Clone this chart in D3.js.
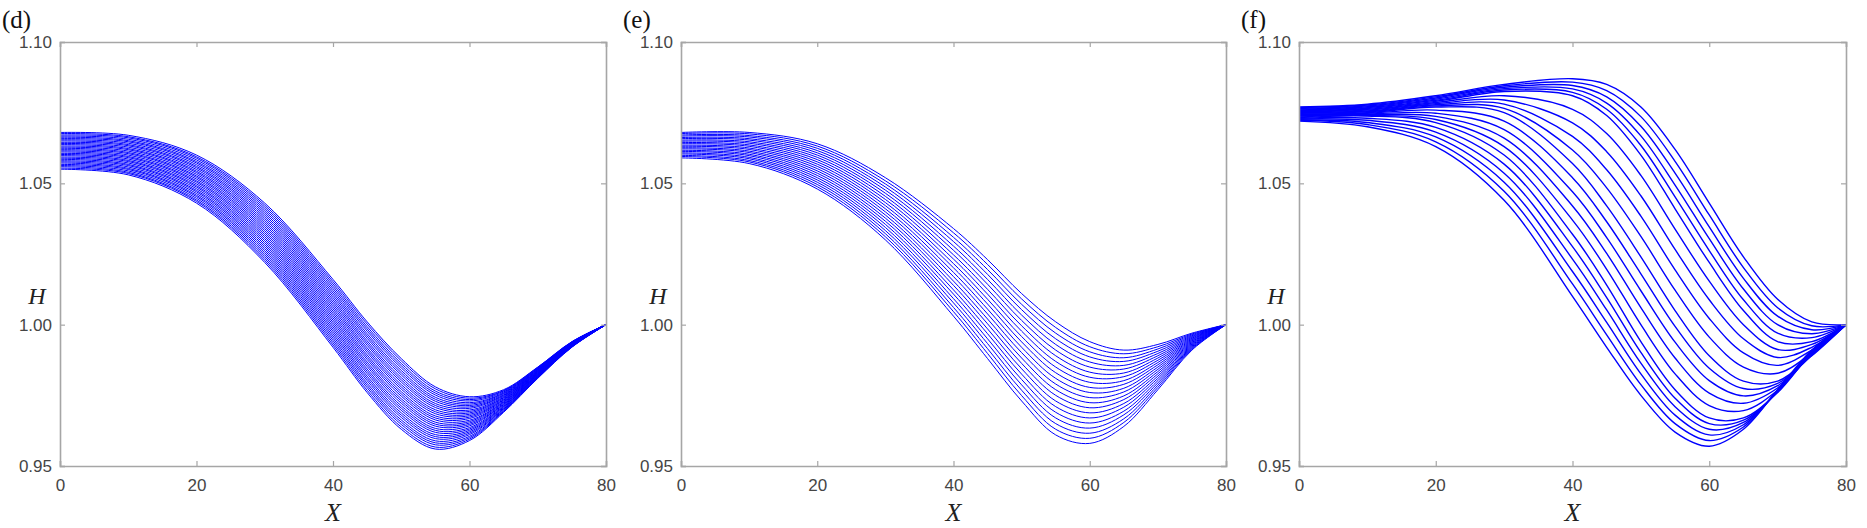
<!DOCTYPE html>
<html><head><meta charset="utf-8">
<script src="https://cdn.jsdelivr.net/npm/d3@7"></script>
<style>body{margin:0;background:#fff}</style>
</head><body><svg id="c" width="1867" height="528"></svg>
<script>
const xGrid = [0,10,20,30,40,45,50,55,60,65,70,75,80];
const xTicks = [0,20,40,60,80];
const yTicks = [0.95,1.00,1.05,1.10];
const yTickLabels = ["0.95","1.00","1.05","1.10"];
const panelLabels = ["(d)","(e)","(f)"];

const curvesD = [
 [1.0680,1.0670,1.0600,1.0430,1.0160,1.0010,0.9880,0.9780,0.9745,0.9770,0.9850,0.9940,1],
 [1.0676,1.0665,1.0594,1.0423,1.0152,1.0002,0.9872,0.9773,0.9740,0.9767,0.9849,0.9939,1],
 [1.0671,1.0661,1.0589,1.0416,1.0144,0.9993,0.9863,0.9765,0.9735,0.9765,0.9847,0.9939,1],
 [1.0667,1.0656,1.0583,1.0409,1.0136,0.9985,0.9855,0.9758,0.9730,0.9762,0.9846,0.9938,1],
 [1.0663,1.0651,1.0577,1.0402,1.0128,0.9977,0.9847,0.9751,0.9724,0.9759,0.9845,0.9937,1],
 [1.0658,1.0647,1.0572,1.0395,1.0120,0.9968,0.9838,0.9743,0.9719,0.9757,0.9843,0.9937,1],
 [1.0654,1.0642,1.0566,1.0388,1.0112,0.9960,0.9830,0.9736,0.9714,0.9754,0.9842,0.9936,1],
 [1.0650,1.0637,1.0560,1.0381,1.0104,0.9952,0.9822,0.9729,0.9709,0.9751,0.9841,0.9935,1],
 [1.0645,1.0633,1.0555,1.0374,1.0096,0.9943,0.9813,0.9721,0.9704,0.9749,0.9839,0.9935,1],
 [1.0641,1.0628,1.0549,1.0367,1.0088,0.9935,0.9805,0.9714,0.9698,0.9746,0.9838,0.9934,1],
 [1.0637,1.0623,1.0543,1.0360,1.0080,0.9927,0.9797,0.9707,0.9693,0.9743,0.9837,0.9933,1],
 [1.0632,1.0619,1.0538,1.0353,1.0072,0.9918,0.9788,0.9699,0.9688,0.9741,0.9835,0.9933,1],
 [1.0628,1.0614,1.0532,1.0346,1.0064,0.9910,0.9780,0.9692,0.9683,0.9738,0.9834,0.9932,1],
 [1.0624,1.0609,1.0526,1.0339,1.0056,0.9902,0.9772,0.9685,0.9678,0.9735,0.9833,0.9931,1],
 [1.0619,1.0605,1.0521,1.0332,1.0048,0.9893,0.9763,0.9677,0.9673,0.9733,0.9831,0.9931,1],
 [1.0615,1.0600,1.0515,1.0325,1.0040,0.9885,0.9755,0.9670,0.9668,0.9730,0.9830,0.9930,1],
 [1.0611,1.0595,1.0509,1.0318,1.0032,0.9877,0.9747,0.9663,0.9662,0.9727,0.9829,0.9929,1],
 [1.0606,1.0591,1.0504,1.0311,1.0024,0.9868,0.9738,0.9655,0.9657,0.9725,0.9827,0.9929,1],
 [1.0602,1.0586,1.0498,1.0304,1.0016,0.9860,0.9730,0.9648,0.9652,0.9722,0.9826,0.9928,1],
 [1.0598,1.0581,1.0492,1.0297,1.0008,0.9852,0.9722,0.9641,0.9647,0.9719,0.9825,0.9927,1],
 [1.0593,1.0577,1.0487,1.0290,1.0000,0.9843,0.9713,0.9633,0.9642,0.9717,0.9823,0.9927,1],
 [1.0589,1.0572,1.0481,1.0283,0.9992,0.9835,0.9705,0.9626,0.9636,0.9714,0.9822,0.9926,1],
 [1.0585,1.0567,1.0475,1.0276,0.9984,0.9827,0.9697,0.9619,0.9631,0.9711,0.9821,0.9925,1],
 [1.0580,1.0563,1.0470,1.0269,0.9976,0.9818,0.9688,0.9611,0.9626,0.9709,0.9819,0.9925,1],
 [1.0576,1.0558,1.0464,1.0262,0.9968,0.9810,0.9680,0.9604,0.9621,0.9706,0.9818,0.9924,1],
 [1.0572,1.0553,1.0458,1.0255,0.9960,0.9802,0.9672,0.9597,0.9616,0.9703,0.9817,0.9923,1],
 [1.0567,1.0549,1.0453,1.0248,0.9952,0.9793,0.9663,0.9589,0.9611,0.9701,0.9815,0.9923,1],
 [1.0563,1.0544,1.0447,1.0241,0.9944,0.9785,0.9655,0.9582,0.9605,0.9698,0.9814,0.9922,1],
 [1.0559,1.0539,1.0441,1.0234,0.9936,0.9777,0.9647,0.9575,0.9600,0.9695,0.9813,0.9921,1],
 [1.0554,1.0535,1.0436,1.0227,0.9928,0.9768,0.9638,0.9567,0.9595,0.9693,0.9811,0.9921,1],
 [1.0550,1.0530,1.0430,1.0220,0.9920,0.9760,0.9630,0.9560,0.9590,0.9690,0.9810,0.9920,1]
];

const curvesE = [
 [1.0680,1.0680,1.0640,1.0520,1.0340,1.0230,1.0110,1.0010,0.9940,0.9910,0.9930,0.9970,1],
 [1.0676,1.0675,1.0632,1.0509,1.0325,1.0213,1.0091,0.9990,0.9922,0.9897,0.9922,0.9967,1],
 [1.0671,1.0669,1.0624,1.0498,1.0309,1.0195,1.0072,0.9970,0.9904,0.9883,0.9914,0.9964,1],
 [1.0667,1.0664,1.0616,1.0487,1.0294,1.0178,1.0053,0.9950,0.9886,0.9870,0.9906,0.9961,1],
 [1.0662,1.0658,1.0608,1.0476,1.0278,1.0160,1.0034,0.9930,0.9868,0.9856,0.9898,0.9958,1],
 [1.0658,1.0653,1.0600,1.0465,1.0263,1.0143,1.0015,0.9910,0.9850,0.9843,0.9890,0.9955,1],
 [1.0653,1.0647,1.0592,1.0454,1.0247,1.0125,0.9996,0.9890,0.9832,0.9829,0.9882,0.9952,1],
 [1.0649,1.0642,1.0584,1.0443,1.0232,1.0108,0.9977,0.9870,0.9814,0.9816,0.9874,0.9949,1],
 [1.0644,1.0636,1.0576,1.0432,1.0216,1.0090,0.9958,0.9850,0.9796,0.9802,0.9866,0.9946,1],
 [1.0640,1.0631,1.0568,1.0421,1.0201,1.0073,0.9939,0.9830,0.9778,0.9789,0.9858,0.9943,1],
 [1.0635,1.0625,1.0560,1.0410,1.0185,1.0055,0.9920,0.9810,0.9760,0.9775,0.9850,0.9940,1],
 [1.0631,1.0620,1.0552,1.0399,1.0170,1.0038,0.9901,0.9790,0.9742,0.9762,0.9842,0.9937,1],
 [1.0626,1.0614,1.0544,1.0388,1.0154,1.0020,0.9882,0.9770,0.9724,0.9748,0.9834,0.9934,1],
 [1.0622,1.0609,1.0536,1.0377,1.0139,1.0003,0.9863,0.9750,0.9706,0.9735,0.9826,0.9931,1],
 [1.0617,1.0603,1.0528,1.0366,1.0123,0.9985,0.9844,0.9730,0.9688,0.9721,0.9818,0.9928,1],
 [1.0613,1.0598,1.0520,1.0355,1.0108,0.9968,0.9825,0.9710,0.9670,0.9708,0.9810,0.9925,1],
 [1.0608,1.0592,1.0512,1.0344,1.0092,0.9950,0.9806,0.9690,0.9652,0.9694,0.9802,0.9922,1],
 [1.0604,1.0587,1.0504,1.0333,1.0077,0.9933,0.9787,0.9670,0.9634,0.9681,0.9794,0.9919,1],
 [1.0599,1.0581,1.0496,1.0322,1.0061,0.9915,0.9768,0.9650,0.9616,0.9667,0.9786,0.9916,1],
 [1.0595,1.0576,1.0488,1.0311,1.0046,0.9898,0.9749,0.9630,0.9598,0.9654,0.9778,0.9913,1],
 [1.0590,1.0570,1.0480,1.0300,1.0030,0.9880,0.9730,0.9610,0.9580,0.9640,0.9770,0.9910,1]
];

const curvesF = [
 [1.0770,1.0780,1.0810,1.0850,1.0870,1.0850,1.0770,1.0620,1.0430,1.0240,1.0090,1.0010,1],
 [1.0768,1.0777,1.0806,1.0845,1.0858,1.0828,1.0736,1.0578,1.0388,1.0202,1.0060,0.9996,1],
 [1.0765,1.0774,1.0802,1.0840,1.0846,1.0806,1.0702,1.0536,1.0346,1.0164,1.0030,0.9982,1],
 [1.0763,1.0771,1.0798,1.0835,1.0834,1.0784,1.0668,1.0494,1.0304,1.0126,1.0000,0.9968,1],
 [1.0760,1.0768,1.0794,1.0830,1.0822,1.0762,1.0634,1.0452,1.0262,1.0088,0.9970,0.9954,1],
 [1.0758,1.0765,1.0790,1.0825,1.0810,1.0740,1.0600,1.0410,1.0220,1.0050,0.9940,0.9940,1],
 [1.0755,1.0762,1.0786,1.0810,1.0762,1.0676,1.0528,1.0338,1.0154,1.0000,0.9912,0.9930,1],
 [1.0753,1.0759,1.0782,1.0795,1.0714,1.0612,1.0456,1.0266,1.0088,0.9950,0.9884,0.9920,1],
 [1.0750,1.0756,1.0778,1.0780,1.0666,1.0548,1.0384,1.0194,1.0022,0.9900,0.9856,0.9910,1],
 [1.0748,1.0753,1.0774,1.0765,1.0618,1.0484,1.0312,1.0122,0.9956,0.9850,0.9828,0.9900,1],
 [1.0745,1.0750,1.0770,1.0750,1.0570,1.0420,1.0240,1.0050,0.9890,0.9800,0.9800,0.9890,1],
 [1.0743,1.0748,1.0759,1.0720,1.0520,1.0364,1.0180,0.9994,0.9846,0.9774,0.9792,0.9892,1],
 [1.0740,1.0745,1.0748,1.0690,1.0470,1.0308,1.0120,0.9938,0.9802,0.9748,0.9784,0.9894,1],
 [1.0738,1.0743,1.0737,1.0660,1.0420,1.0252,1.0060,0.9882,0.9758,0.9722,0.9776,0.9896,1],
 [1.0735,1.0740,1.0726,1.0630,1.0370,1.0196,1.0000,0.9826,0.9714,0.9696,0.9768,0.9898,1],
 [1.0733,1.0738,1.0715,1.0600,1.0320,1.0140,0.9940,0.9770,0.9670,0.9670,0.9760,0.9900,1],
 [1.0730,1.0730,1.0698,1.0568,1.0276,1.0096,0.9902,0.9740,0.9650,0.9662,0.9762,0.9902,1],
 [1.0728,1.0723,1.0681,1.0536,1.0232,1.0052,0.9864,0.9710,0.9630,0.9654,0.9764,0.9904,1],
 [1.0725,1.0715,1.0664,1.0504,1.0188,1.0008,0.9826,0.9680,0.9610,0.9646,0.9766,0.9906,1],
 [1.0723,1.0708,1.0647,1.0472,1.0144,0.9964,0.9788,0.9650,0.9590,0.9638,0.9768,0.9908,1],
 [1.0720,1.0700,1.0630,1.0440,1.0100,0.9920,0.9750,0.9620,0.9570,0.9630,0.9770,0.9910,1]
];
const allCurves = [curvesD, curvesE, curvesF];
const strokeWidths = [1.0, 1.0, 1.4];

const svg = d3.select("#c");
const panels = [{l:60,r:606},{l:681,r:1226},{l:1299,r:1846}];
const plotTop = 42, plotBottom = 466;
const axisColor = "#a6a6a6", textColor = "#454545";
const serif = "'Liberation Serif','Times New Roman',serif";

panels.forEach((p, i) => {
  const x = d3.scaleLinear().domain([0,80]).range([p.l, p.r]);
  const y = d3.scaleLinear().domain([0.95,1.10]).range([plotBottom, plotTop]);
  const g = svg.append("g");

  const line = d3.line().x((d,j)=>x(xGrid[j])).y(d=>y(d)).curve(d3.curveCatmullRom.alpha(0.5));
  g.selectAll("path.c").data(allCurves[i]).join("path")
    .attr("class","c").attr("d", line)
    .attr("fill","none").attr("stroke","#0000ff").attr("stroke-width",strokeWidths[i]);

  const xb = g.append("g").attr("transform",`translate(0,${plotBottom})`)
    .call(d3.axisBottom(x).tickValues(xTicks).tickSize(-5).tickPadding(13).tickFormat(d3.format("d")));
  const xt = g.append("g").attr("transform",`translate(0,${plotTop})`)
    .call(d3.axisTop(x).tickValues(xTicks).tickSize(-5).tickFormat(""));
  const yl = g.append("g").attr("transform",`translate(${p.l},0)`)
    .call(d3.axisLeft(y).tickValues(yTicks).tickSize(-5).tickPadding(8).tickFormat((d,k)=>yTickLabels[k]));
  const yr = g.append("g").attr("transform",`translate(${p.r},0)`)
    .call(d3.axisRight(y).tickValues(yTicks).tickSize(-5).tickFormat(""));
  [xb,xt,yl,yr].forEach(a=>{
    a.select(".domain").attr("stroke",axisColor).attr("stroke-width",1.6);
    a.selectAll(".tick line").attr("stroke",axisColor).attr("stroke-width",1.2);
    a.selectAll(".tick text").attr("fill",textColor).style("font-family","'Liberation Sans', Arial, sans-serif").style("font-size","17px");
  });
  yl.selectAll(".tick text").attr("dy","0.32em");

  g.append("text").attr("x", p.l - 58).attr("y", 28).text(panelLabels[i])
    .style("font-family",serif).style("font-size","25px").attr("fill","#111");
  g.append("text").attr("x", p.l - 23).attr("y", 304).text("H").attr("text-anchor","middle")
    .style("font-family",serif).style("font-style","italic").style("font-size","24px").attr("fill","#222");
  g.append("text").attr("x", (p.l+p.r)/2).attr("y", 521).text("X").attr("text-anchor","middle")
    .style("font-family",serif).style("font-style","italic").style("font-size","26px").attr("fill","#222");
});
</script></body></html>
